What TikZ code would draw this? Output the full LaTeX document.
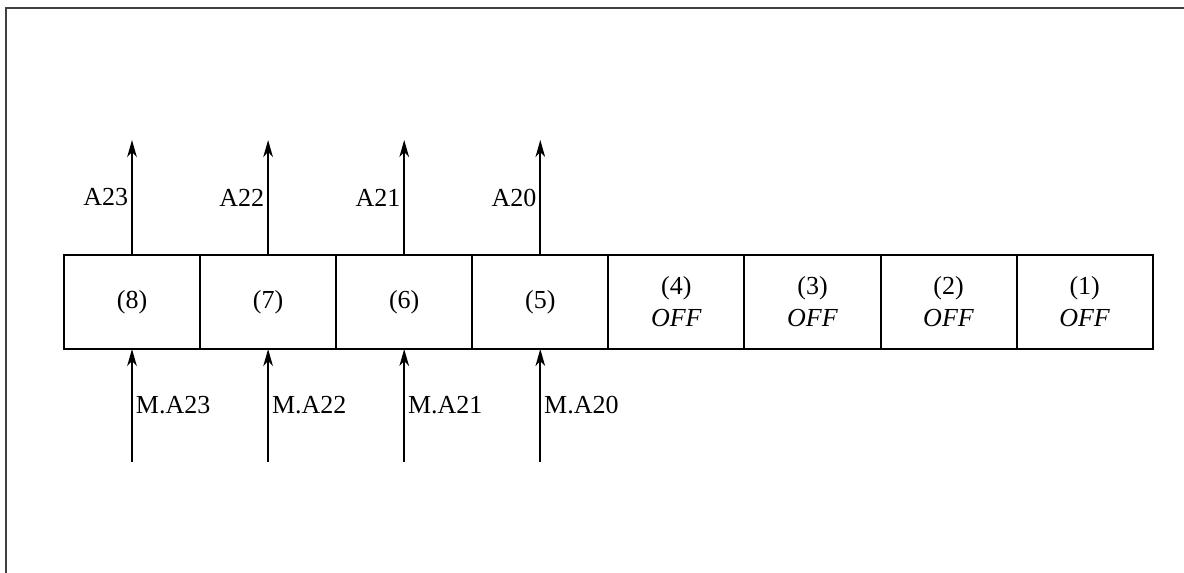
\documentclass[tikz,border=0pt]{standalone}
\usepackage{fontspec}
\setmainfont{Liberation Serif}
\usetikzlibrary{arrows.meta, positioning}

\tikzset{
  cell/.style={draw, line width=1pt, minimum width=68.05pt, minimum height=47pt,
               inner sep=0pt, outer sep=0pt, align=center},
  sig/.style={line width=0.9pt, -{Stealth[length=8.5pt,width=4.8pt,inset=2.5pt]}},
  lbl/.style={inner sep=1.5pt}
}

\begin{document}
\begin{tikzpicture}[x=0.5pt, y=-0.5pt, font=\fontsize{13}{16}\selectfont]
  \useasboundingbox (0,0) rectangle (1184,573);
  % frame (cut at right and bottom)
  \draw[line width=1.1pt, black!75] (6,573) |- (1184,8);

  % register cells
  \node[cell] (b8) at (132,302) {(8)};
  \node[cell, right=0pt of b8] (b7) {(7)};
  \node[cell, right=0pt of b7] (b6) {(6)};
  \node[cell, right=0pt of b6] (b5) {(5)};
  \node[cell, right=0pt of b5] (b4) {(4)\\\textit{OFF}};
  \node[cell, right=0pt of b4] (b3) {(3)\\\textit{OFF}};
  \node[cell, right=0pt of b3] (b2) {(2)\\\textit{OFF}};
  \node[cell, right=0pt of b2] (b1) {(1)\\\textit{OFF}};

  % address lines in and out
  \foreach \i/\a in {8/23, 7/22, 6/21, 5/20} {
    \coordinate[above=57.5pt of b\i.north] (out\i);
    \coordinate[below=56.5pt of b\i.south] (in\i);
    \draw[sig] (b\i.north) -- (out\i) node[midway, left, lbl] {A\a};
    \draw[sig] (in\i) -- (b\i.south) node[midway, right, lbl] {M.A\a};
  }
\end{tikzpicture}
\end{document}
